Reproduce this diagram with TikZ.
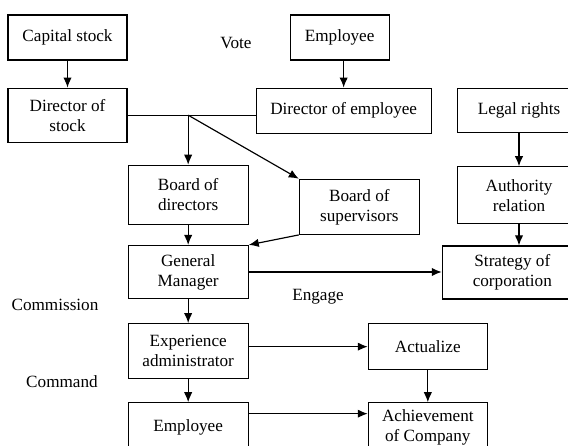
\documentclass[tikz,border=0pt]{standalone}
\usepackage{fontspec}
\setmainfont{Liberation Serif}
\tikzstyle{block}=[draw, line width=0.7pt, align=center, inner sep=1pt, minimum width=72pt]
\tikzstyle{arrow}=[line width=0.7pt,->,>={Latex[length=6pt,width=5pt]}]
\usetikzlibrary{arrows.meta,positioning,calc}

\begin{document}
\begin{tikzpicture}[x=0.6pt,y=-0.6pt,node distance=15pt,font=\fontsize{10.3}{12}\selectfont]
\useasboundingbox (0,0) rectangle (568,446);

\node (cap) [block,minimum width=71.4pt,minimum height=27pt] at (67.5,37.5) {Capital stock};
\node (dos) [below=16.2pt of cap,block,minimum width=71.4pt,minimum height=32.4pt] {Director of\\stock};
\node (bod) [below right=13.2pt and 0pt of dos,block,minimum height=35.4pt] {Board of\\directors};
\node (gm) [below=12pt of bod,block,minimum height=31.8pt] {General\\Manager};
\node (exp) [below=14.4pt of gm,block,minimum height=33pt] {Experience\\administrator};
\node (emp2) [below=13.8pt of exp,block,minimum height=29pt] {Employee};

\node (emp1) [right=97.2pt of cap,block,minimum width=59.4pt,minimum height=27pt] {Employee};
\node (doe) [below=16.2pt of emp1,xshift=2.4pt,block,minimum width=105pt,minimum height=27pt] {Director of employee};
\node (legal) [right=15pt of doe,block,minimum width=74pt,minimum height=26.4pt] {Legal rights};
\node (auth) [below=19.8pt of legal,block,minimum width=74pt,minimum height=34.2pt] {Authority\\relation};
\node (strat) [below=12.6pt of auth.south west,anchor=north west,xshift=-9pt,block,minimum width=84pt,minimum height=31.8pt] {Strategy of\\corporation};
\node (bos) [right=30pt of bod,yshift=-7.2pt,block,minimum height=33pt] {Board of\\supervisors};

\node (act) [right=71.4pt of exp.north east,anchor=north west,block,minimum width=71.4pt,minimum height=27.6pt] {Actualize};
\node (ach) [below=19.2pt of act,block,minimum width=71.4pt,minimum height=30pt] {Achievement\\of Company};

\node (vote) at (236,43) {Vote};
\node (comm) at (55,305) {Commission};
\node (cmd) at (62,382) {Command};
\node (eng) at (318,297) {Engage};

\coordinate (j) at (dos.east -| bod.north);

\draw[arrow] (cap) -- (dos);
\draw[line width=0.7pt] (dos.east) -- (dos.east -| doe.west);
\draw[arrow] (j) -- (bod.north);
\draw[arrow] (j) -- (bos.north west);
\draw[arrow] (emp1.south -| doe.north) -- (doe.north);
\draw[arrow] (bod) -- (gm);
\draw[arrow] (bos.south west) -- (gm.north east);
\draw[arrow] (gm) -- (gm -| strat.west);
\draw[arrow] (legal) -- (auth);
\draw[arrow] (auth) -- (auth |- strat.north);
\draw[arrow] (gm) -- (exp);
\draw[arrow] (exp) -- (emp2);
\draw[arrow] (act.west -| exp.east) -- (act.west);
\draw[arrow] (act) -- (ach);
\draw[arrow] ([yshift=8pt]emp2.east) -- ([yshift=8pt]emp2.east -| ach.west);
\end{tikzpicture}
\end{document}
